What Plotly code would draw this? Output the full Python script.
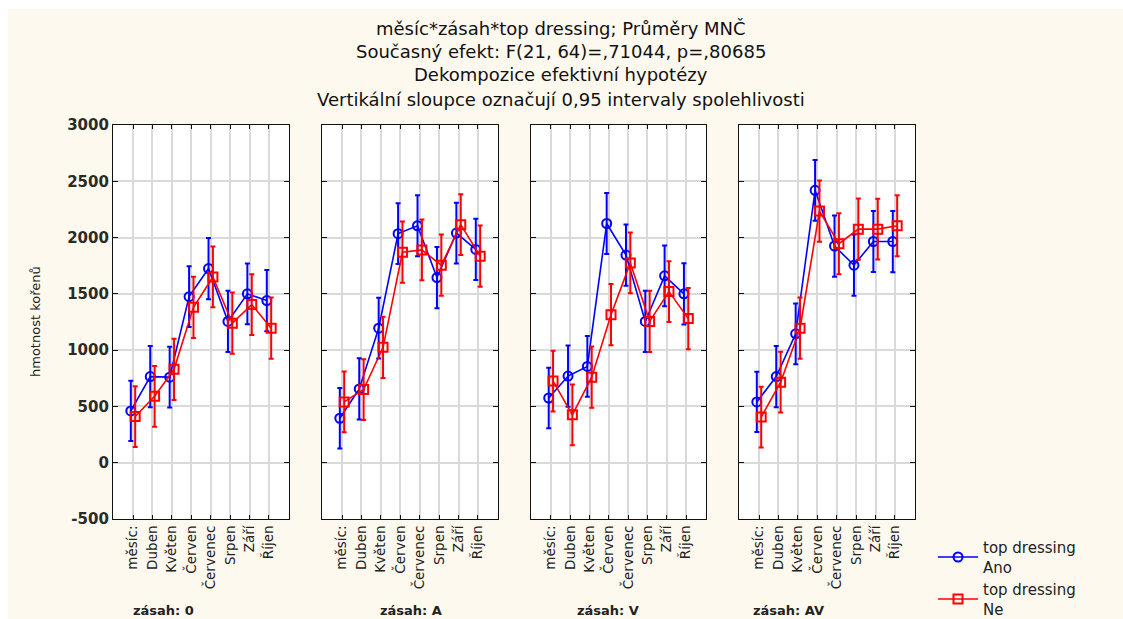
import plotly.graph_objects as go

W, H = 1123, 619

months = ["měsíc:", "Duben", "Květen", "Červen", "Červenec", "Srpen", "Září", "Říjen"]
zasah = ["0", "A", "V", "AV"]

ano_0 = [460, 765, 760, 1475, 1725, 1255, 1500, 1440]
ne_0 = [410, 590, 830, 1380, 1650, 1240, 1405, 1195]
ano_A = [395, 655, 1195, 2035, 2105, 1645, 2040, 1895]
ne_A = [540, 650, 1025, 1870, 1890, 1755, 2115, 1835]
ano_V = [575, 770, 855, 2125, 1845, 1255, 1660, 1500]
ne_V = [725, 425, 760, 1315, 1775, 1255, 1520, 1280]
ano_AV = [540, 765, 1145, 2420, 1925, 1755, 1965, 1965]
ne_AV = [405, 715, 1195, 2235, 1945, 2075, 2075, 2105]

ci_ano = [268, 272, 270, 270, 272, 272, 270, 272]
ci_ne = [270, 270, 272, 272, 270, 272, 270, 272]

ano_series = [ano_0, ano_A, ano_V, ano_AV]
ne_series = [ne_0, ne_A, ne_V, ne_AV]

y_ticks = [-500, 0, 500, 1000, 1500, 2000, 2500, 3000]
y_tick_text = ["-500", "0", "500", "1000", "1500", "2000", "2500", "3000"]
title_lines = [
    "měsíc*zásah*top dressing; Průměry MNČ",
    "Současný efekt: F(21, 64)=,71044, p=,80685",
    "Dekompozice efektivní hypotézy",
    "Vertikální sloupce označují 0,95 intervaly spolehlivosti",
]
legend_names = ["top dressing<br>Ano", "top dressing<br>Ne"]

BLUE = "#0000ff"
RED = "#ff0000"
BG = "#fdf9ef"
FONT = "DejaVu Sans"


def px_x(p):
    return p / W


def px_y(p):
    return 1 - p / H


panels_px = [(113, 289), (322, 498), (531, 706), (739, 915)]
top_px, bot_px = 125, 519
label_x_px = [163, 411, 608, 788]

fig = go.Figure()

for i in range(4):
    xa = "x" if i == 0 else f"x{i+1}"
    ya = "y" if i == 0 else f"y{i+1}"
    fig.add_trace(go.Scatter(
        x=months, y=ano_series[i], xaxis=xa, yaxis=ya,
        mode="lines+markers", name=legend_names[0], legendgroup="ano",
        showlegend=(i == 0), offsetgroup="ano",
        line=dict(color=BLUE, width=1.6),
        marker=dict(symbol="circle-open", size=9, color=BLUE, line=dict(width=2, color=BLUE)),
        error_y=dict(type="data", array=ci_ano, visible=True, color=BLUE, thickness=2, width=2.5),
    ))
    fig.add_trace(go.Scatter(
        x=months, y=ne_series[i], xaxis=xa, yaxis=ya,
        mode="lines+markers", name=legend_names[1], legendgroup="ne",
        showlegend=(i == 0), offsetgroup="ne",
        line=dict(color=RED, width=1.6),
        marker=dict(symbol="square-open", size=9, color=RED, line=dict(width=2, color=RED)),
        error_y=dict(type="data", array=ci_ne, visible=True, color=RED, thickness=2, width=2.5),
    ))

layout = dict(
    width=W, height=H, autosize=False,
    margin=dict(l=0, r=0, t=0, b=0, pad=0, autoexpand=False),
    paper_bgcolor=BG, plot_bgcolor="white",
    scattermode="group", scattergap=0.55,
    font=dict(family=FONT, color="#222222"),
    legend=dict(
        x=px_x(933), y=px_y(531), xanchor="left", yanchor="top",
        bgcolor="rgba(0,0,0,0)", font=dict(family=FONT, size=15, color="#222222"),
        tracegroupgap=0, itemwidth=40,
    ),
    showlegend=True,
)

ydom = [px_y(bot_px), px_y(top_px)]
for i, (l, r) in enumerate(panels_px):
    xk = "xaxis" if i == 0 else f"xaxis{i+1}"
    yk = "yaxis" if i == 0 else f"yaxis{i+1}"
    ya = "y" if i == 0 else f"y{i+1}"
    layout[xk] = dict(
        domain=[px_x(l), px_x(r)], anchor=ya, type="category",
        categoryorder="array", categoryarray=months,
        range=[-1.03, 8.03], tickangle=-90,
        showgrid=True, gridcolor="#dadada", gridwidth=2,
        showline=True, linecolor="#111111", linewidth=1.2, mirror="ticks",
        ticks="inside", ticklen=4, tickcolor="#111111",
        tickfont=dict(family=FONT, size=13.5, color="#222222"),
        zeroline=False, fixedrange=True, automargin=False,
    )
    layout[yk] = dict(
        domain=ydom, anchor="x" if i == 0 else f"x{i+1}",
        range=[-500, 3000], tickvals=y_ticks, ticktext=y_tick_text,
        showticklabels=(i == 0),
        showgrid=True, gridcolor="#dadada", gridwidth=2,
        showline=True, linecolor="#111111", linewidth=1.2, mirror="ticks",
        ticks="inside", ticklen=5, tickcolor="#111111",
        tickfont=dict(family=FONT, size=15, color="#2a2a2a", weight="bold"),
        zeroline=False, fixedrange=True, automargin=False,
    )
    if i > 0:
        layout[yk]["matches"] = "y"

annotations = []
title_y = [28, 51, 74, 99]
for t, py in zip(title_lines, title_y):
    annotations.append(dict(
        text=t, x=px_x(561), y=px_y(py), xref="paper", yref="paper",
        xanchor="center", yanchor="middle", showarrow=False,
        font=dict(family=FONT, size=18, color="#111111"),
    ))
for z, px in zip(zasah, label_x_px):
    annotations.append(dict(
        text=f"zásah: {z}", x=px_x(px), y=px_y(610), xref="paper", yref="paper",
        xanchor="center", yanchor="middle", showarrow=False,
        font=dict(family=FONT, size=13, color="#222222", weight="bold"),
    ))
annotations.append(dict(
    text="hmotnost kořenů", x=px_x(35), y=px_y(322), xref="paper", yref="paper",
    xanchor="center", yanchor="middle", showarrow=False, textangle=-90,
    font=dict(family=FONT, size=13, color="#222222"),
))
layout["annotations"] = annotations

# thin white frame at top and left, as in the reference picture
layout["shapes"] = [
    dict(type="rect", xref="paper", yref="paper", x0=0, x1=1, y0=px_y(9), y1=1,
         fillcolor="white", line=dict(width=0), layer="below"),
    dict(type="rect", xref="paper", yref="paper", x0=0, x1=px_x(8), y0=0, y1=1,
         fillcolor="white", line=dict(width=0), layer="below"),
]

fig.update_layout(**layout)
fig.write_html(
    "out.html",
    config={"displayModeBar": False, "responsive": False},
    post_script="document.body.style.margin='0';document.body.style.overflow='hidden';",
)
